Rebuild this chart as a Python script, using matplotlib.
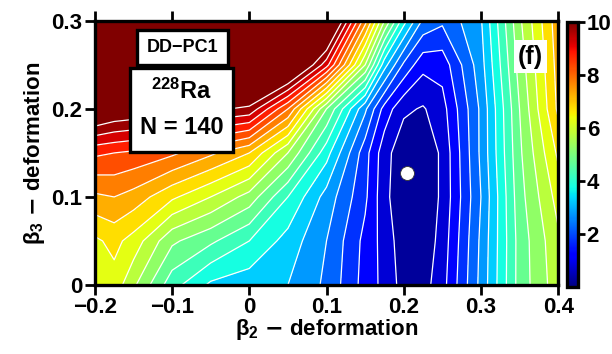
import numpy as np
import matplotlib
matplotlib.use('Agg')
import matplotlib.pyplot as plt
from matplotlib.patches import Rectangle
from matplotlib.cm import ScalarMappable
from matplotlib.colors import Normalize

plt.rcParams['font.family'] = ['Liberation Sans Narrow', 'Liberation Sans', 'DejaVu Sans']
plt.rcParams['font.weight'] = 'bold'

# grid of the potential energy surface (MeV)
beta2 = [-0.2, -0.175, -0.15, -0.1, -0.05, 0.0, 0.05, 0.1, 0.15, 0.175, 0.2, 0.225, 0.25, 0.3, 0.35, 0.4]
beta3 = [0.0, 0.05, 0.1, 0.15, 0.2, 0.25, 0.3]

e_b3_000 = [6.3, 6.3, 5.6, 4.2, 3.4, 3.2, 3.0, 2.4, 1.3, 0.85, 0.3, 0.3, 0.8, 2.65, 4.7, 5.8]
e_b3_005 = [6.4, 6.65, 6.3, 5.1, 4.6, 4.0, 3.3, 2.5, 1.35, 0.8, 0.2, 0.15, 0.7, 2.6, 4.7, 5.9]
e_b3_010 = [7.4, 7.5, 7.3, 6.6, 6.0, 5.3, 4.0, 2.8, 1.6, 0.65, 0.1, 0.1, 0.6, 2.5, 4.8, 6.2]
e_b3_015 = [8.6, 8.5, 8.4, 8.1, 7.6, 7.0, 5.5, 3.7, 1.7, 0.7, 0.15, 0.1, 0.6, 2.6, 4.9, 6.6]
e_b3_020 = [10.9, 10.6, 10.5, 10.3, 10.1, 9.9, 8.0, 5.0, 2.6, 1.3, 0.6, 0.45, 0.8, 2.6, 5.0, 7.1]
e_b3_025 = [12.5, 12.4, 12.3, 12.1, 12.0, 11.5, 11.5, 9.2, 5.5, 3.2, 1.9, 1.15, 1.2, 2.8, 5.2, 7.2]
e_b3_030 = [13.5, 13.4, 13.3, 13.1, 13.0, 12.8, 12.5, 11.6, 7.7, 5.5, 3.7, 2.4, 2.1, 2.95, 5.4, 7.3]

min_beta2, min_beta3 = 0.204, 0.127
cbar_ticks = [2, 4, 6, 8, 10]

energy = np.array([e_b3_000, e_b3_005, e_b3_010, e_b3_015,
                   e_b3_020, e_b3_025, e_b3_030])

fig = plt.figure(figsize=(6.12, 3.54), dpi=100)
ax = fig.add_axes([0.155, 0.195, 0.757, 0.746])

levels = np.arange(0, 10.01, 0.5)
cmap = plt.get_cmap('jet')
cmap.set_over(cmap(1.0))
ax.contourf(beta2, beta3, energy, levels=levels, cmap=cmap, vmin=0, vmax=10, extend='max')
ax.contour(beta2, beta3, energy, levels=levels[1:], colors='white', linewidths=0.9)

ax.plot(min_beta2, min_beta3, 'o', ms=10, mfc='white', mec='#333333', mew=0.6)

ax.set_xlim(-0.2, 0.4)
ax.set_ylim(0, 0.3)
ax.set_xticks([-0.2, -0.1, 0, 0.1, 0.2, 0.3, 0.4])
ax.set_xticklabels(['\u22120.2', '\u22120.1', '0', '0.1', '0.2', '0.3', '0.4'])
ax.set_yticks([0, 0.1, 0.2, 0.3])
ax.set_yticklabels(['0', '0.1', '0.2', '0.3'])
ax.tick_params(axis='both', direction='out', length=7, width=2, labelsize=16, pad=2)
ax.tick_params(axis='x', top=True)
for s in ax.spines.values():
    s.set_linewidth(2.4)

ax.set_xlabel(r'$\mathregular{β_2}$ $-$ deformation', fontsize=16, fontweight='bold', labelpad=-1)
ax.set_ylabel(r'$\mathregular{β_3}$ $-$ deformation', fontsize=16, fontweight='bold', labelpad=3)

# label boxes
ax.add_patch(Rectangle((0.091, 0.833), 0.196, 0.133, transform=ax.transAxes,
                       fc='white', ec='black', lw=2.4, zorder=5))
ax.text(0.189, 0.90, 'DD\u2212PC1', transform=ax.transAxes, ha='center', va='center',
        fontsize=13, fontweight='bold', zorder=6)
ax.add_patch(Rectangle((0.076, 0.504), 0.222, 0.318, transform=ax.transAxes,
                       fc='white', ec='black', lw=2.4, zorder=5))
ax.text(0.187, 0.735, r'$\mathregular{^{228}}$Ra', transform=ax.transAxes, ha='center',
        va='center', fontsize=17, fontweight='bold', zorder=6)
ax.text(0.187, 0.595, 'N = 140', transform=ax.transAxes, ha='center', va='center',
        fontsize=17, fontweight='bold', zorder=6)
ax.text(0.94, 0.865, '(f)', transform=ax.transAxes, ha='center', va='center',
        fontsize=18, fontweight='bold', zorder=6,
        bbox=dict(fc='white', ec='none', pad=3))

cax = fig.add_axes([0.926, 0.19, 0.019, 0.748])
cb = fig.colorbar(ScalarMappable(norm=Normalize(0, 10), cmap='jet'), cax=cax)
cb.set_ticks(cbar_ticks)
cb.ax.tick_params(labelsize=16, length=5, width=2, pad=1)
cb.outline.set_linewidth(2.4)

fig.savefig('out.png', dpi=100)
